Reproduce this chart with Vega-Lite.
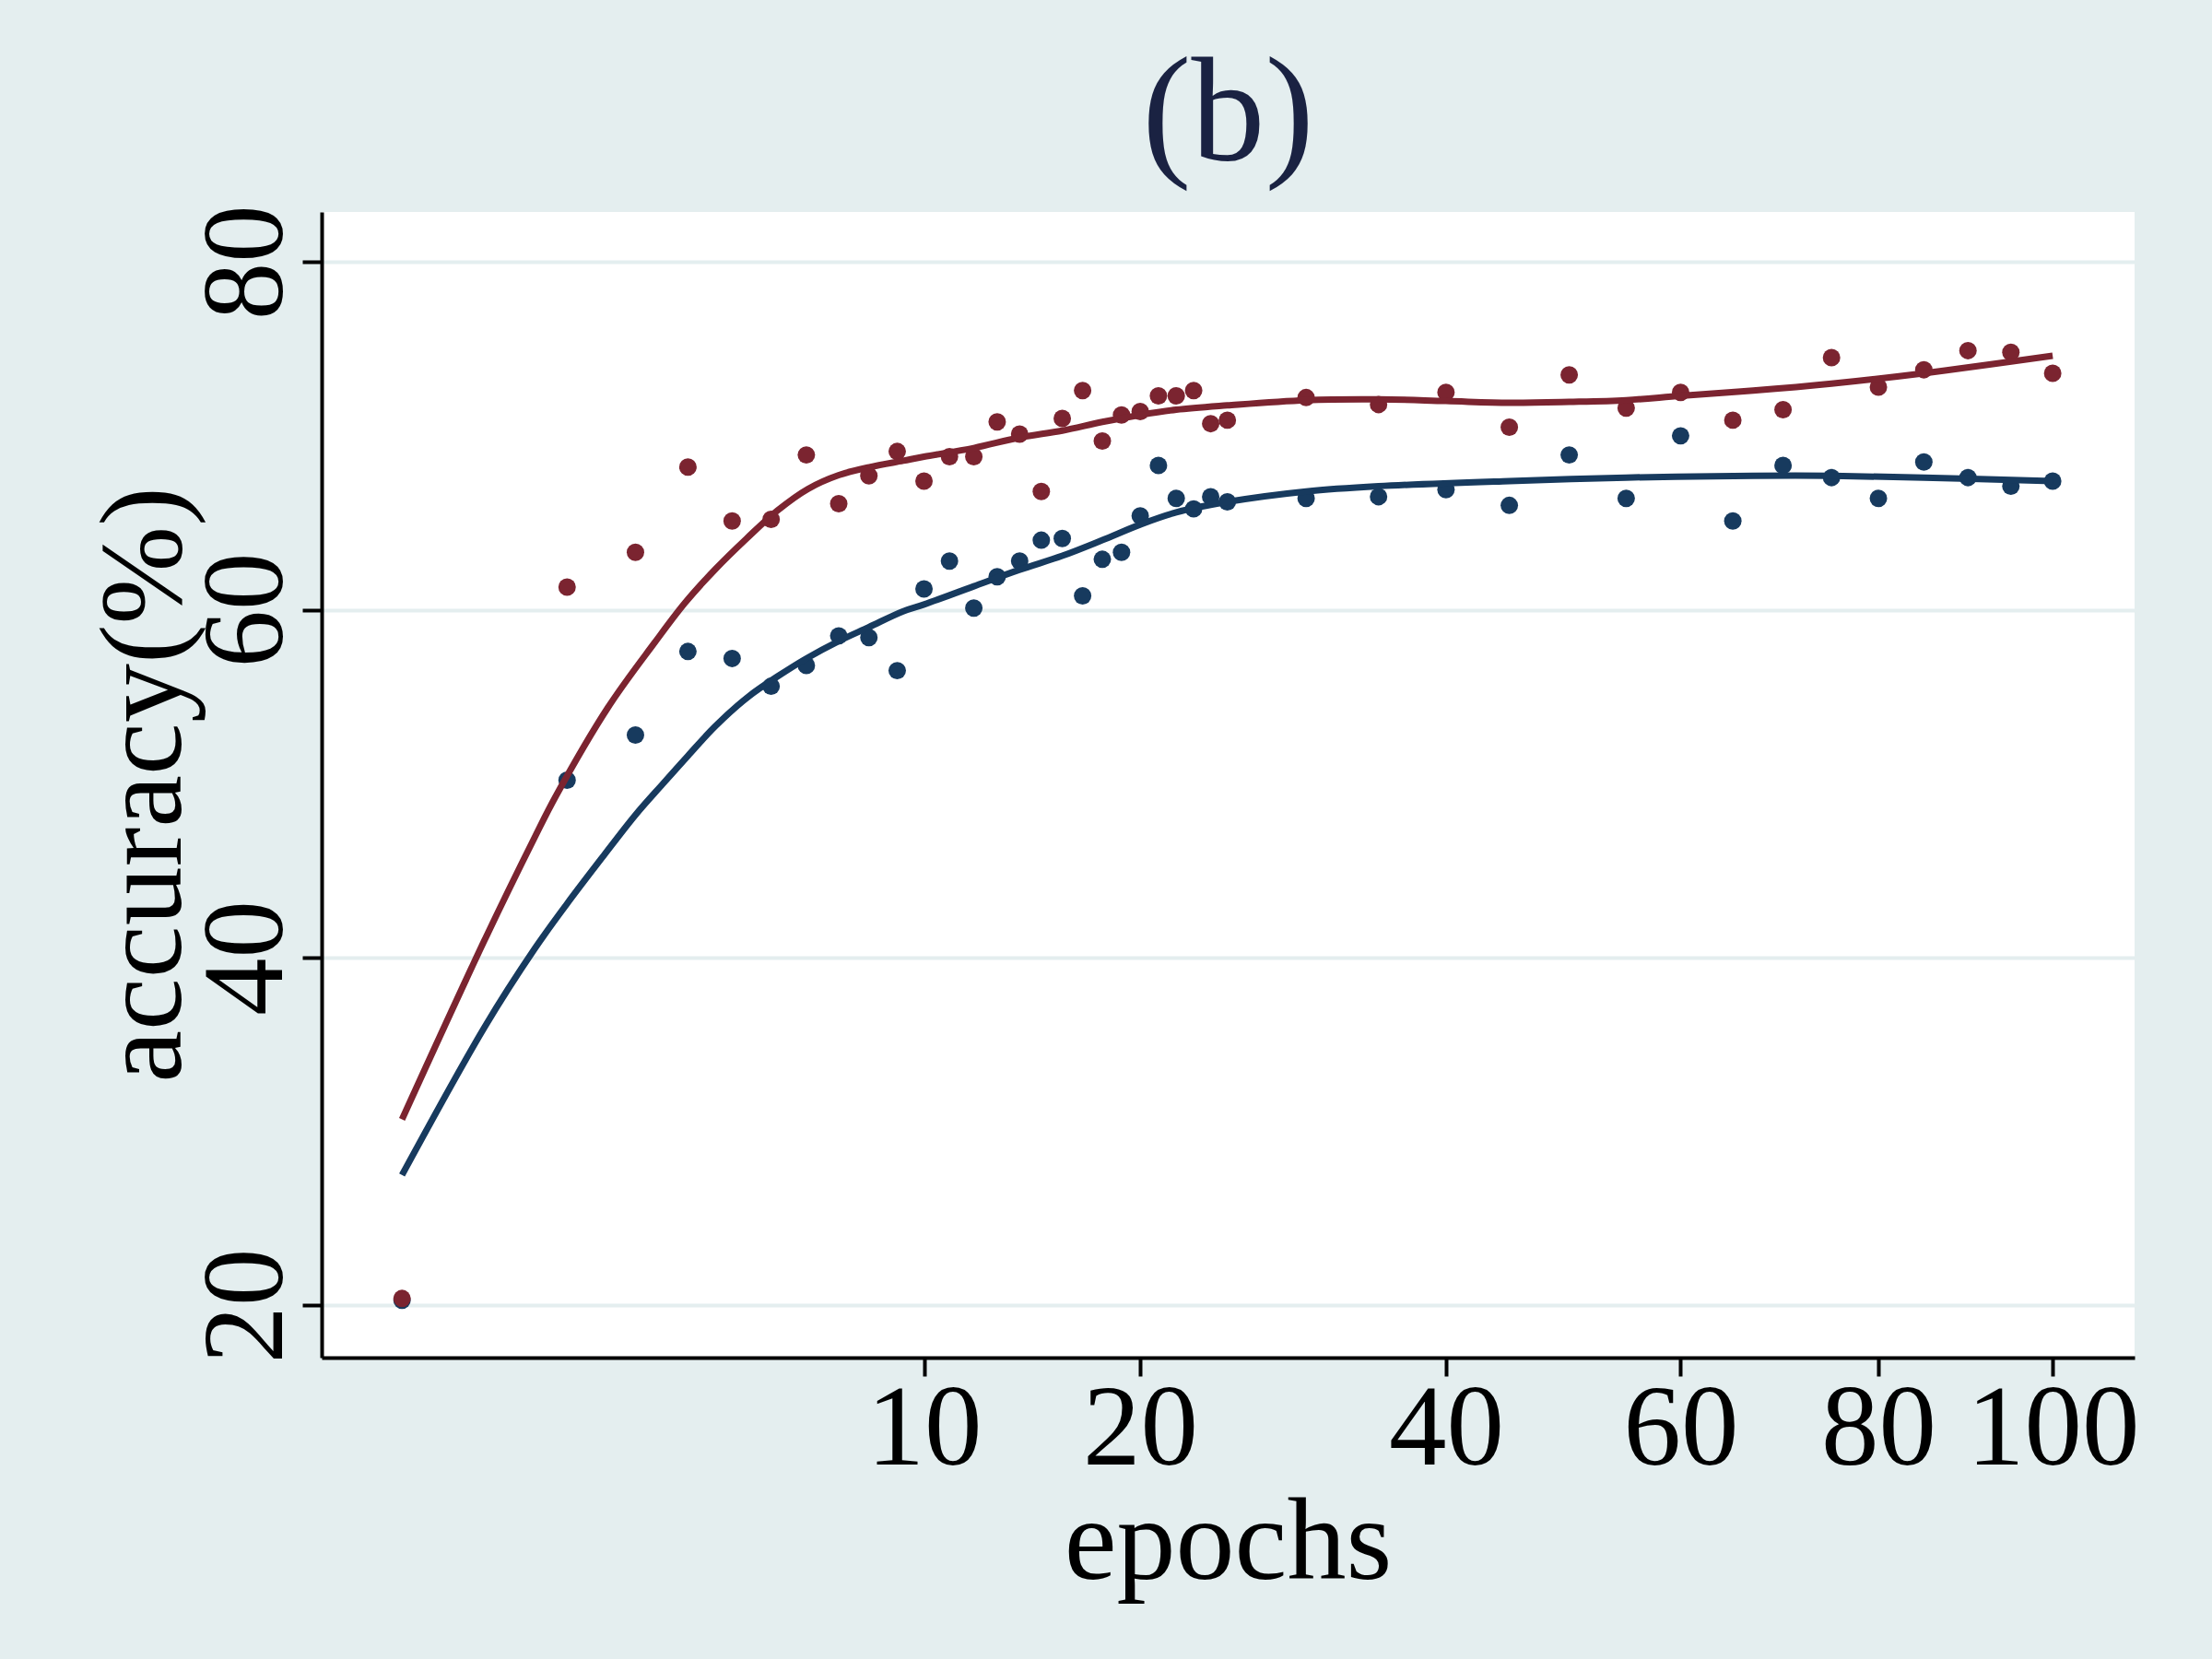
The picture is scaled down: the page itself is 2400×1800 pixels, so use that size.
{
  "$schema": "https://vega.github.io/schema/vega-lite/v6.json",
  "autosize": {"type": "none"},
  "width": 1967,
  "height": 1243,
  "padding": {"left": 349, "top": 230, "right": 84, "bottom": 327},
  "background": "#e4eeef",
  "title": {
    "text": "(b)",
    "font": "Liberation Serif",
    "fontSize": 160,
    "fontWeight": "normal",
    "color": "#1a2242",
    "anchor": "middle",
    "frame": "group",
    "baseline": "alphabetic",
    "offset": 63,
    "dy": 174
  },
  "config": {"view": {"fill": "white", "stroke": null}},
  "datasets": {
    "points": [
      {"epoch": 0, "model": "B", "acc": 20.3}, {"epoch": 1, "model": "B", "acc": 50.2},
      {"epoch": 2, "model": "B", "acc": 52.8}, {"epoch": 3, "model": "B", "acc": 57.6},
      {"epoch": 4, "model": "B", "acc": 57.2}, {"epoch": 5, "model": "B", "acc": 55.6},
      {"epoch": 6, "model": "B", "acc": 56.8}, {"epoch": 7, "model": "B", "acc": 58.5},
      {"epoch": 8, "model": "B", "acc": 58.4}, {"epoch": 9, "model": "B", "acc": 56.5},
      {"epoch": 10, "model": "B", "acc": 61.2}, {"epoch": 11, "model": "B", "acc": 62.8},
      {"epoch": 12, "model": "B", "acc": 60.1}, {"epoch": 13, "model": "B", "acc": 61.9},
      {"epoch": 14, "model": "B", "acc": 62.8}, {"epoch": 15, "model": "B", "acc": 64.0},
      {"epoch": 16, "model": "B", "acc": 64.1}, {"epoch": 17, "model": "B", "acc": 60.8},
      {"epoch": 18, "model": "B", "acc": 62.9}, {"epoch": 19, "model": "B", "acc": 63.3},
      {"epoch": 20, "model": "B", "acc": 65.4}, {"epoch": 21, "model": "B", "acc": 68.3},
      {"epoch": 22, "model": "B", "acc": 66.4}, {"epoch": 23, "model": "B", "acc": 65.8},
      {"epoch": 24, "model": "B", "acc": 66.5}, {"epoch": 25, "model": "B", "acc": 66.2},
      {"epoch": 30, "model": "B", "acc": 66.4}, {"epoch": 35, "model": "B", "acc": 66.5},
      {"epoch": 40, "model": "B", "acc": 66.9}, {"epoch": 45, "model": "B", "acc": 66.0},
      {"epoch": 50, "model": "B", "acc": 68.9}, {"epoch": 55, "model": "B", "acc": 66.4},
      {"epoch": 60, "model": "B", "acc": 70.0}, {"epoch": 65, "model": "B", "acc": 65.1},
      {"epoch": 70, "model": "B", "acc": 68.3}, {"epoch": 75, "model": "B", "acc": 67.6},
      {"epoch": 80, "model": "B", "acc": 66.4}, {"epoch": 85, "model": "B", "acc": 68.5},
      {"epoch": 90, "model": "B", "acc": 67.6}, {"epoch": 95, "model": "B", "acc": 67.1},
      {"epoch": 100, "model": "B", "acc": 67.4},
      {"epoch": 0, "model": "A", "acc": 20.4}, {"epoch": 1, "model": "A", "acc": 61.3},
      {"epoch": 2, "model": "A", "acc": 63.3}, {"epoch": 3, "model": "A", "acc": 68.2},
      {"epoch": 4, "model": "A", "acc": 65.1}, {"epoch": 5, "model": "A", "acc": 65.2},
      {"epoch": 6, "model": "A", "acc": 68.9}, {"epoch": 7, "model": "A", "acc": 66.1},
      {"epoch": 8, "model": "A", "acc": 67.7}, {"epoch": 9, "model": "A", "acc": 69.1},
      {"epoch": 10, "model": "A", "acc": 67.4}, {"epoch": 11, "model": "A", "acc": 68.8},
      {"epoch": 12, "model": "A", "acc": 68.8}, {"epoch": 13, "model": "A", "acc": 70.8},
      {"epoch": 14, "model": "A", "acc": 70.1}, {"epoch": 15, "model": "A", "acc": 66.8},
      {"epoch": 16, "model": "A", "acc": 71.0}, {"epoch": 17, "model": "A", "acc": 72.6},
      {"epoch": 18, "model": "A", "acc": 69.7}, {"epoch": 19, "model": "A", "acc": 71.2},
      {"epoch": 20, "model": "A", "acc": 71.4}, {"epoch": 21, "model": "A", "acc": 72.3},
      {"epoch": 22, "model": "A", "acc": 72.3}, {"epoch": 23, "model": "A", "acc": 72.6},
      {"epoch": 24, "model": "A", "acc": 70.7}, {"epoch": 25, "model": "A", "acc": 70.9},
      {"epoch": 30, "model": "A", "acc": 72.2}, {"epoch": 35, "model": "A", "acc": 71.8},
      {"epoch": 40, "model": "A", "acc": 72.5}, {"epoch": 45, "model": "A", "acc": 70.5},
      {"epoch": 50, "model": "A", "acc": 73.5}, {"epoch": 55, "model": "A", "acc": 71.6},
      {"epoch": 60, "model": "A", "acc": 72.5}, {"epoch": 65, "model": "A", "acc": 70.9},
      {"epoch": 70, "model": "A", "acc": 71.5}, {"epoch": 75, "model": "A", "acc": 74.5},
      {"epoch": 80, "model": "A", "acc": 72.8}, {"epoch": 85, "model": "A", "acc": 73.8},
      {"epoch": 90, "model": "A", "acc": 74.9}, {"epoch": 95, "model": "A", "acc": 74.8},
      {"epoch": 100, "model": "A", "acc": 73.6}
    ],
    "fit": [
      {"epoch": 0, "model": "B", "acc": 27.5}, {"epoch": 0.25, "model": "B", "acc": 36.0},
      {"epoch": 0.645, "model": "B", "acc": 40.5}, {"epoch": 1, "model": "B", "acc": 43.1},
      {"epoch": 1.5, "model": "B", "acc": 45.9}, {"epoch": 2, "model": "B", "acc": 48.2},
      {"epoch": 2.5, "model": "B", "acc": 50.0}, {"epoch": 3, "model": "B", "acc": 51.6},
      {"epoch": 3.6, "model": "B", "acc": 53.3}, {"epoch": 4.4, "model": "B", "acc": 55.0},
      {"epoch": 5.2, "model": "B", "acc": 56.2}, {"epoch": 6, "model": "B", "acc": 57.2},
      {"epoch": 7, "model": "B", "acc": 58.2}, {"epoch": 8, "model": "B", "acc": 59.0},
      {"epoch": 9.2, "model": "B", "acc": 59.9}, {"epoch": 10, "model": "B", "acc": 60.3},
      {"epoch": 12, "model": "B", "acc": 61.35}, {"epoch": 14, "model": "B", "acc": 62.3},
      {"epoch": 16, "model": "B", "acc": 63.1}, {"epoch": 18, "model": "B", "acc": 64.0},
      {"epoch": 20, "model": "B", "acc": 64.9}, {"epoch": 22, "model": "B", "acc": 65.6},
      {"epoch": 25, "model": "B", "acc": 66.2}, {"epoch": 30, "model": "B", "acc": 66.8},
      {"epoch": 35, "model": "B", "acc": 67.1}, {"epoch": 45, "model": "B", "acc": 67.4},
      {"epoch": 55, "model": "B", "acc": 67.6}, {"epoch": 67, "model": "B", "acc": 67.7},
      {"epoch": 75, "model": "B", "acc": 67.7}, {"epoch": 85, "model": "B", "acc": 67.6},
      {"epoch": 100, "model": "B", "acc": 67.4},
      {"epoch": 0, "model": "A", "acc": 30.7}, {"epoch": 0.25, "model": "A", "acc": 41.0},
      {"epoch": 0.645, "model": "A", "acc": 46.9}, {"epoch": 0.87, "model": "A", "acc": 49.3},
      {"epoch": 1.56, "model": "A", "acc": 54.4}, {"epoch": 2.34, "model": "A", "acc": 58.1},
      {"epoch": 2.94, "model": "A", "acc": 60.4}, {"epoch": 3.61, "model": "A", "acc": 62.35},
      {"epoch": 4.36, "model": "A", "acc": 64.1}, {"epoch": 5.17, "model": "A", "acc": 65.7},
      {"epoch": 6.05, "model": "A", "acc": 66.95}, {"epoch": 7.0, "model": "A", "acc": 67.74},
      {"epoch": 8.02, "model": "A", "acc": 68.2}, {"epoch": 9.22, "model": "A", "acc": 68.57},
      {"epoch": 10, "model": "A", "acc": 68.8}, {"epoch": 12, "model": "A", "acc": 69.3},
      {"epoch": 14, "model": "A", "acc": 69.9}, {"epoch": 16, "model": "A", "acc": 70.3},
      {"epoch": 18, "model": "A", "acc": 70.8}, {"epoch": 20, "model": "A", "acc": 71.2},
      {"epoch": 22, "model": "A", "acc": 71.5}, {"epoch": 25, "model": "A", "acc": 71.75},
      {"epoch": 30, "model": "A", "acc": 72.05}, {"epoch": 35, "model": "A", "acc": 72.1},
      {"epoch": 40, "model": "A", "acc": 72.0}, {"epoch": 45, "model": "A", "acc": 71.9},
      {"epoch": 50, "model": "A", "acc": 71.95}, {"epoch": 55, "model": "A", "acc": 72.05},
      {"epoch": 60, "model": "A", "acc": 72.3}, {"epoch": 67, "model": "A", "acc": 72.6},
      {"epoch": 75, "model": "A", "acc": 73.0}, {"epoch": 85, "model": "A", "acc": 73.6},
      {"epoch": 100, "model": "A", "acc": 74.6}
    ]
  },
  "encoding": {
    "x": {
      "field": "epoch",
      "type": "quantitative",
      "scale": {"type": "sqrt", "domain": [-0.237, 110.17], "zero": false, "nice": false},
      "axis": {
        "values": [10, 20, 40, 60, 80, 100],
        "format": "d",
        "title": "epochs",
        "grid": false,
        "domainColor": "black",
        "domainWidth": 4,
        "tickColor": "black",
        "tickWidth": 4,
        "tickSize": 20,
        "labelFont": "Liberation Serif",
        "labelFontSize": 125,
        "labelColor": "black",
        "labelBaseline": "alphabetic",
        "labelPadding": 95,
        "labelFlush": false,
        "labelOverlap": false,
        "labelLimit": 0,
        "titleFont": "Liberation Serif",
        "titleFontSize": 128,
        "titleFontWeight": "normal",
        "titleColor": "black",
        "titleX": 983,
        "titleY": 239,
        "titleAlign": "center",
        "titleBaseline": "alphabetic"
      }
    },
    "y": {
      "field": "acc",
      "type": "quantitative",
      "scale": {"domain": [17.0, 82.87], "zero": false, "nice": false},
      "axis": {
        "values": [20, 40, 60, 80],
        "title": "accuracy(%)",
        "grid": true,
        "gridColor": "#e4eeef",
        "gridWidth": 4,
        "domainColor": "black",
        "domainWidth": 4,
        "tickColor": "black",
        "tickWidth": 4,
        "tickSize": 21,
        "labelAngle": 270,
        "labelAlign": "center",
        "labelBaseline": "alphabetic",
        "labelPadding": 23,
        "labelFont": "Liberation Serif",
        "labelFontSize": 125,
        "labelColor": "black",
        "labelOverlap": false,
        "labelLimit": 0,
        "titleFont": "Liberation Serif",
        "titleFontSize": 128,
        "titleFontWeight": "normal",
        "titleColor": "black",
        "titleAngle": 270,
        "titleX": -154,
        "titleY": 621,
        "titleAlign": "center",
        "titleBaseline": "alphabetic",
        "titleLimit": 0
      }
    },
    "color": {
      "field": "model",
      "type": "nominal",
      "scale": {"domain": ["B", "A"], "range": ["#173a5e", "#7b2430"]},
      "legend": null
    }
  },
  "layer": [
    {
      "data": {"name": "points"},
      "mark": {"type": "circle", "size": 360, "opacity": 1}
    },
    {
      "data": {"name": "fit"},
      "mark": {"type": "line", "strokeWidth": 7, "interpolate": "catmull-rom"}
    }
  ]
}
